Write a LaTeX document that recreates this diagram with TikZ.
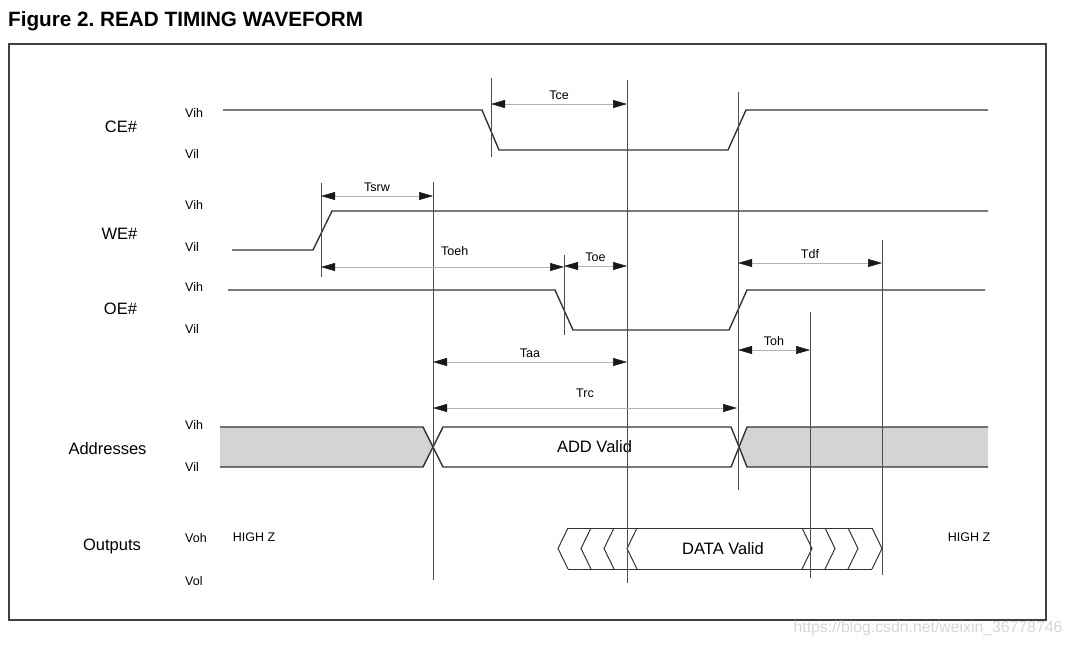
\documentclass[tikz,border=0pt]{standalone}
\usepackage{fontspec}
\setmainfont{Liberation Sans}
\usetikzlibrary{arrows.meta}
\frenchspacing

\tikzset{
  sig/.style={line width=1.4pt, draw=black!80},
  outl/.style={line width=1pt, draw=black!80},
  busfill/.style={fill=black!17},
  guide/.style={line width=0.6pt, draw=black!70},
  dimline/.style={line width=0.5pt, draw=black!30,
    {Triangle[length=14pt,width=8pt,color=black!90]}-{Triangle[length=14pt,width=8pt,color=black!90]}},
  tlab/.style={font=\fontsize{12.5}{14}\selectfont, midway, above=4pt, inner sep=0pt},
  lvl/.style={font=\fontsize{12.5}{14}\selectfont, anchor=west, inner sep=0pt},
  signame/.style={font=\fontsize{16.5}{19}\selectfont, anchor=base, inner sep=0pt},
  valtext/.style={font=\fontsize{16.5}{19}\selectfont, inner sep=0pt},
}

\begin{document}
\begin{tikzpicture}[x=1pt, y=-1pt]
  \useasboundingbox (0,0) rectangle (1074,646);
  % Title and frame
  \node[anchor=base west, inner sep=0pt, font=\fontsize{20.7}{24}\selectfont\bfseries]
    (title) at (8,26.5) {Figure 2. READ TIMING WAVEFORM};
  \draw[line width=2.2pt, draw=black!75] (9,44) rectangle (1046,620);
  % Signal names
  \node[signame] (ce)   at (121,132)   {CE\#};
  \node[signame] (we)   at (119.5,239) {WE\#};
  \node[signame] (oe)   at (120.5,314) {OE\#};
  \node[signame] (addr name) at (107.5,454) {Addresses};
  \node[signame] (out name)  at (112,550)   {Outputs};
  % Levels
  \foreach \y/\t in {113/Vih,154/Vil,205/Vih,247/Vil,287/Vih,329/Vil,
                     425/Vih,467/Vil,538/Voh,581/Vol}
    \node[lvl] (lvl\y) at (185,\y) {\t};
  % Address bus
  \fill[busfill] (220,427) -- (423,427) -- (433,447) -- (423,467) -- (220,467) -- cycle;
  \fill[busfill] (988,427) -- (747,427) -- (739,447) -- (747,467) -- (988,467) -- cycle;
  \draw[sig] (220,427) -- (423,427) -- (443,467) -- (731,467) -- (747,427) -- (988,427);
  \draw[sig] (220,467) -- (423,467) -- (443,427) -- (731,427) -- (747,467) -- (988,467);
  \node[valtext] (add valid) at (594.5,447) {ADD Valid};
  % CE#, WE#, OE#
  \draw[sig] (223,110) -- (482,110) -- (499,150) -- (728,150) -- (746,110) -- (988,110);
  \draw[sig] (232,250) -- (313,250) -- (332,211) -- (988,211);
  \draw[sig] (228,290) -- (555,290) -- (573,330) -- (729,330) -- (747,290) -- (985,290);
  % Outputs
  \foreach \t in {558,581,604,627}
    \draw[outl] (\t+10,528) -- (\t,548.5) -- (\t+10,569);
  \foreach \t in {812,835,858,882}
    \draw[outl] (\t-10,528) -- (\t,548.5) -- (\t-10,569);
  \draw[outl] (568,528) -- (872,528) (568,569) -- (872,569);
  \node[valtext] (data valid) at (723,549) {DATA Valid};
  \node[lvl, anchor=center] (hiz l) at (254,537.5) {HIGH Z};
  \node[lvl, anchor=center] (hiz r) at (969,537.5) {HIGH Z};
  % Timing marks
  \coordinate (weR)  at (321,0);
  \coordinate (addr) at (433,0);
  \coordinate (ceF)  at (491,0);
  \coordinate (oeF)  at (564,0);
  \coordinate (acc)  at (627,0);
  \coordinate (ceR)  at (738,0);
  \coordinate (hold) at (810,0);
  \coordinate (hiz)  at (882,0);
  \foreach \n/\a/\b in {weR/183/277, addr/182/580, ceF/78/157, oeF/255/335,
                        acc/80/583, ceR/92/490, hold/312/578, hiz/240/575}
    \draw[guide] (\n |- 0,\a) -- (\n |- 0,\b);
  % Timing parameters
  \draw[dimline] (ceF |- 0,104)  -- node[tlab] (tce)  {Tce}  (acc |- 0,104);
  \draw[dimline] (weR |- 0,196)  -- node[tlab] (tsrw) {Tsrw} (addr |- 0,196);
  \draw[dimline] (weR |- 0,267)  -- node[tlab, pos=0.55, above=7pt] (toeh) {Toeh} (oeF |- 0,267);
  \draw[dimline] (oeF |- 0,266)  -- node[tlab] (toe)  {Toe}  (acc |- 0,266);
  \draw[dimline] (ceR |- 0,263)  -- node[tlab] (tdf)  {Tdf}  (hiz |- 0,263);
  \draw[dimline] (ceR |- 0,350)  -- node[tlab] (toh)  {Toh}  (hold |- 0,350);
  \draw[dimline] (addr |- 0,362) -- node[tlab] (taa)  {Taa}  (acc |- 0,362);
  \draw[dimline] (addr |- 0,408) -- node[tlab, above=6pt] (trc) {Trc} (737,408);
  % Watermark
  \node[font=\fontsize{15.8}{17}\selectfont, text=black!16, inner sep=0pt]
    (mark) at (928,628) {https://blog.csdn.net/weixin\_36778746};
\end{tikzpicture}
\end{document}
